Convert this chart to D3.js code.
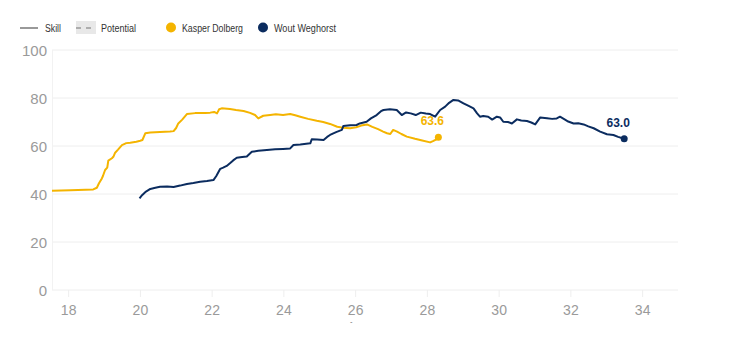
<!DOCTYPE html>
<html><head><meta charset="utf-8">
<script src="https://cdn.jsdelivr.net/npm/d3@7"></script>
<style>body{margin:0;background:#fff;overflow:hidden}svg{display:block;font-family:"Liberation Sans",Arial,sans-serif}</style>
</head><body>
<script>
const playerNames = ["Kasper Dolberg", "Wout Weghorst"];
const playerColors = ["#f4b400", "#0b2c5f"];
const xTicks = [18,20,22,24,26,28,30,32,34];
const yTicks = [0,20,40,60,80,100];
const dolbergAge = [17.55,18.06,18.70,18.80,18.86,18.94,18.97,19.03,19.09,19.12,19.22,19.26,19.31,19.39,19.50,19.62,19.73,19.90,20.01,20.07,20.15,20.29,20.56,20.84,20.94,21.01,21.07,21.18,21.31,21.54,21.82,21.96,22.07,22.15,22.21,22.28,22.51,22.68,22.89,23.07,23.21,23.30,23.44,23.63,23.79,23.99,24.19,24.33,24.47,24.69,24.93,25.11,25.30,25.50,25.67,25.86,26.03,26.17,26.33,26.48,26.64,26.78,26.89,26.98,27.06,27.17,27.29,27.44,27.67,27.87,28.09,28.17,28.28,28.32];
const dolbergSkill = [41.4,41.6,41.9,42.6,44.5,46.5,47.5,50,51,53.9,54.9,55.5,57.2,58.5,60.4,61.2,61.4,61.8,62.2,62.5,65.3,65.6,65.8,66,66.2,67.5,69.4,71,73.3,73.7,73.8,73.9,74.2,73.6,75.3,75.7,75.4,75.0,74.6,73.8,72.9,71.5,72.6,72.9,73.2,72.9,73.3,72.8,72.2,71.3,70.5,70.0,69.2,68.0,67.6,67.4,67.8,68.5,69.0,68.0,67.0,66.0,65.3,65.0,66.7,66.0,65.0,63.9,63.0,62.3,61.5,62.0,62.9,63.6];
const weghorstAge = [19.99,20.06,20.17,20.29,20.43,20.56,20.76,20.94,21.12,21.31,21.49,21.68,21.87,22.05,22.13,22.24,22.32,22.42,22.51,22.60,22.70,22.85,22.98,23.12,23.30,23.54,23.77,23.99,24.19,24.28,24.47,24.75,24.79,24.94,25.12,25.22,25.30,25.47,25.63,25.67,25.86,26.04,26.13,26.32,26.44,26.60,26.72,26.79,26.97,27.16,27.30,27.42,27.55,27.69,27.83,27.97,28.09,28.23,28.37,28.51,28.62,28.74,28.87,29.02,29.15,29.30,29.40,29.48,29.57,29.71,29.82,29.95,30.04,30.13,30.26,30.37,30.51,30.63,30.79,30.91,31.02,31.16,31.35,31.49,31.62,31.71,31.85,31.94,32.09,32.22,32.37,32.50,32.65,32.83,33.02,33.20,33.33,33.50];
const weghorstSkill = [38.2,39.5,41.0,42.1,42.6,43.0,43.1,42.9,43.5,44.2,44.6,45.1,45.4,45.8,47.5,50.5,51.0,51.7,52.8,54.0,55.1,55.4,55.6,57.6,58.0,58.3,58.6,58.8,59.0,60.4,60.6,61.1,62.8,62.7,62.5,63.8,64.6,65.8,66.7,68.3,68.6,68.75,69.4,70.1,71.5,72.9,74.5,75,75.3,75,72.9,74.0,73.6,72.9,73.9,73.5,73.3,72.2,75.0,76.4,78.0,79.2,79.0,77.8,76.8,75.7,73.6,72.2,72.5,72.2,71.0,72.2,71.9,70.1,70.0,69.4,71.1,70.6,70.4,69.8,69.0,71.9,71.6,71.3,71.5,72.2,71.0,70.2,69.4,69.5,69.0,68.2,67.4,66.0,64.9,64.6,63.8,63.0];
const finalLabels = ["63.6", "63.0"];

const W = 750, H = 323;
const svg = d3.select("body").append("svg").attr("width", W).attr("height", H).style("overflow","hidden");
const x = d3.scaleLinear().domain([17.55, 35.0]).range([52, 678]);
const y = d3.scaleLinear().domain([0, 100]).range([290, 50]);

svg.append("g").selectAll("line").data(yTicks).join("line")
  .attr("x1", 52).attr("x2", 678).attr("y1", d => y(d)).attr("y2", d => y(d))
  .attr("stroke", "#eeeeee").attr("stroke-width", 1);
svg.append("line").attr("x1", 52.5).attr("x2", 52.5).attr("y1", 50).attr("y2", 290).attr("stroke", "#f2f2f2");

const yAxis = svg.append("g").attr("transform", "translate(47,0)")
  .call(d3.axisLeft(y).tickValues(yTicks).tickSize(0).tickPadding(0));
yAxis.select(".domain").remove();
yAxis.selectAll("text").attr("fill", "#9a9a9a").style("font-size", "15px").attr("dy", "0.36em");

const xAxis = svg.append("g").attr("transform", "translate(0,290)")
  .call(d3.axisBottom(x).tickValues(xTicks).tickSize(7).tickPadding(5));
xAxis.select(".domain").remove();
xAxis.selectAll("line").attr("stroke", "#eeeeee");
xAxis.selectAll("text").attr("fill", "#9a9a9a").style("font-size", "14px").attr("dy", "0.9em");
svg.append("text").attr("x", 358).attr("y", 331).attr("text-anchor", "middle")
  .attr("fill", "#9a9a9a").style("font-size", "12px").text("Age");

const series = [
  {ages: dolbergAge, vals: dolbergSkill},
  {ages: weghorstAge, vals: weghorstSkill}
];
const line = d3.line().x(d => x(d[0])).y(d => y(d[1]));
series.forEach((s, i) => {
  const pts = s.ages.map((a, j) => [a, s.vals[j]]);
  svg.append("path").datum(pts).attr("d", line).attr("fill", "none")
    .attr("stroke", playerColors[i]).attr("stroke-width", 2).attr("stroke-linejoin", "round");
  const last = pts[pts.length - 1];
  svg.append("circle").attr("cx", x(last[0])).attr("cy", y(last[1])).attr("r", 3.5).attr("fill", playerColors[i]);
  svg.append("text").attr("x", x(last[0]) - 6).attr("y", y(last[1]) - 12).attr("text-anchor", "middle")
    .attr("fill", playerColors[i]).style("font-size", "12px").style("font-weight", "bold").text(finalLabels[i]);
});

const lg = svg.append("g").style("font-size", "10px").attr("fill", "#333");
lg.append("line").attr("x1", 20).attr("x2", 38).attr("y1", 28).attr("y2", 28).attr("stroke", "#999").attr("stroke-width", 2);
lg.append("text").attr("x", 45).attr("y", 31.5).attr("textLength", 16).attr("lengthAdjust", "spacingAndGlyphs").text("Skill");
lg.append("rect").attr("x", 76).attr("y", 21).attr("width", 20).attr("height", 13).attr("fill", "#e8e8e8");
lg.append("line").attr("x1", 76).attr("x2", 96).attr("y1", 28).attr("y2", 28).attr("stroke", "#999").attr("stroke-width", 1.5).attr("stroke-dasharray", "5,5");
lg.append("text").attr("x", 101).attr("y", 31.5).attr("textLength", 35).attr("lengthAdjust", "spacingAndGlyphs").text("Potential");
const lx = [171, 263];
const lw = [61, 62];
playerNames.forEach((n, i) => {
  lg.append("circle").attr("cx", lx[i]).attr("cy", 27.5).attr("r", 5).attr("fill", playerColors[i]);
  lg.append("text").attr("x", lx[i] + 11).attr("y", 31.5).attr("textLength", lw[i]).attr("lengthAdjust", "spacingAndGlyphs").text(n);
});
</script>
</body></html>
